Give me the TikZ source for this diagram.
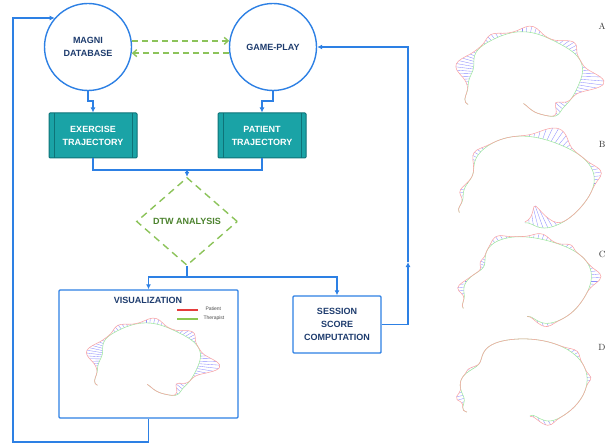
\documentclass[tikz,border=0pt]{standalone}
\usepackage{fontspec}
\setsansfont{Liberation Sans}
\usetikzlibrary{arrows.meta,shapes.geometric,positioning}

\definecolor{flowblue}{RGB}{45,128,228}
\definecolor{navy}{RGB}{30,60,110}
\definecolor{tealfill}{RGB}{26,163,166}
\definecolor{tealedge}{RGB}{14,115,120}
\definecolor{dashgreen}{RGB}{140,195,90}
\definecolor{dtwgreen}{RGB}{75,130,45}
\definecolor{patred}{RGB}{250,165,165}
\definecolor{thergreen}{RGB}{160,232,160}
\definecolor{hatchblue}{RGB}{140,140,255}
\definecolor{legred}{RGB}{230,60,60}
\definecolor{leggreen}{RGB}{140,200,80}

% one DTW alignment: centre, radii, angle range, therapist offset, patient bumps
\newcommand{\dtwpath}[8]{%
  \begin{scope}[shift={(#1,#2)}, x=#3pt, y=#4pt]
    \pgfmathtruncatemacro\nh{(#5-(#6))/4}
    \foreach \i in {0,...,\nh}{
      \pgfmathsetmacro\x{#5-4*\i}
      \draw[hatch] ({(1+#7)*cos(\x)},{(1+#7)*sin(\x)})
        -- ({(1+#7+#8)*cos(\x)},{(1+#7+#8)*sin(\x)});
    }
    \draw[ther] plot[domain=#5:#6, samples=90, smooth] ({(1+#7)*cos(\x)},{(1+#7)*sin(\x)});
    \draw[pati] plot[domain=#5:#6, samples=90, smooth] ({(1+#7+#8)*cos(\x)},{(1+#7+#8)*sin(\x)});
  \end{scope}}

\begin{document}
\begin{tikzpicture}[
    x=1pt, y=-1pt,
    >={Latex[length=5pt,width=5pt]},
    declare function={bmp(\ta,\tb,\tc)=exp(-min(((\ta-\tb)/\tc)*((\ta-\tb)/\tc),25));},
    every node/.style={font=\sffamily\bfseries\fontsize{9}{13}\selectfont, text=navy, align=center},
    stage/.style={circle, draw=flowblue, line width=1.4pt, fill=white, minimum size=87pt, inner sep=0pt},
    proc/.style={rectangle, rounded corners=1pt, draw=tealedge, line width=1pt, fill=tealfill,
        text=white, minimum width=88pt, minimum height=45pt,
        path picture={\draw[tealedge, line width=0.9pt]
            ([xshift=5pt]path picture bounding box.north west) -- ([xshift=5pt]path picture bounding box.south west)
            ([xshift=-5pt]path picture bounding box.north east) -- ([xshift=-5pt]path picture bounding box.south east);}},
    box/.style={rectangle, draw=flowblue, line width=1.4pt, fill=white, rounded corners=1pt, inner sep=0pt},
    decide/.style={diamond, draw=dashgreen, line width=1.4pt, dash pattern=on 7pt off 5pt,
        minimum width=101pt, minimum height=88pt, inner sep=0pt, text=dtwgreen},
    flow/.style={->, draw=flowblue, line width=1.4pt},
    link/.style={draw=flowblue, line width=1.4pt},
    sync/.style={-{Straight Barb[length=4pt,width=7pt]}, draw=dashgreen, line width=1.4pt, dash pattern=on 6pt off 4pt},
    hatch/.style={hatchblue, line width=0.35pt},
    ther/.style={thergreen, line width=0.55pt},
    pati/.style={patred, line width=0.55pt},
    legtext/.style={font=\sffamily\fontsize{5}{6}\selectfont, text=black!70, anchor=west},
    tag/.style={font=\rmfamily\fontsize{9}{9}\selectfont, text=black!80, anchor=east}
]
\useasboundingbox (0,0) rectangle (609,446);

% flowchart
\node[stage] (db) at (88,47) {MAGNI\\DATABASE};
\node[stage] (gp) at (273,47) {GAME-PLAY};
\node[proc] (ex) at (93,135.5) {EXERCISE\\TRAJECTORY};
\node[proc] (pt) at (262,135.5) {PATIENT\\TRAJECTORY};
\node[decide] (dtw) at (187,221.5) {DTW ANALYSIS};
\node[box, minimum width=179pt, minimum height=128pt] (vis) at (148.5,354) {};
\node (vt) at (148,300) {VISUALIZATION};
\node[box, minimum width=88pt, minimum height=57pt] (sc) at (337,324.5) {SESSION\\SCORE\\COMPUTATION};

\coordinate (mj) at (187,170);
\coordinate (sj) at (187,277);
\coordinate (rc) at (408,262);
\coordinate (lb) at (13,442);

\draw[sync] (db.8) -- (gp.172);
\draw[sync] (gp.188) -- (db.-8);
\draw[flow] (db.south) -- ++(0,10) -| (ex.north);
\draw[flow] (gp.south) -- ++(0,10) -| (pt.north);
\draw[link] (ex.south) |- (mj) -| (pt.south);
\draw[flow] (mj) -- (dtw.north);
\draw[link] (dtw.south) -- (sj);
\draw[flow] (sj) -| (vis.north);
\draw[flow] (sj) -| (sc.north);
\draw[flow] (sc.east) -| (rc);
\draw[flow] (rc) |- (gp.east);
\draw[flow] (vis.south) |- (lb) |- (db.139);

% legend inside the visualization
\draw[legred, line width=1.6pt] (177,310) -- (198,310);
\draw[leggreen, line width=1.6pt] (177,319) -- (198,319);
\node[legtext] (lp) at (202,309) {Patient};
\node[legtext] (lt) at (200,318) {Therapist};

\dtwpath{146}{360}{54}{36}{218}{-88}
  {0.03*sin(5*\x)-0.2*bmp(\x,168,22)+0.15*bmp(\x,215,10)+0.1*bmp(\x,-60,8)-0.3*bmp(\x,-90,12)}
  {0.3*bmp(\x,168,16)+0.12*bmp(\x,118,10)+0.15*bmp(\x,82,10)+0.18*bmp(\x,42,10)+0.4*bmp(\x,-8,12)-0.18*bmp(\x,-50,7)}

% alignments A-D
\dtwpath{522}{75}{60}{42}{218}{-88}
  {0.03*sin(5*\x)-0.2*bmp(\x,168,22)+0.15*bmp(\x,215,10)+0.1*bmp(\x,-60,8)-0.3*bmp(\x,-90,12)}
  {0.3*bmp(\x,168,16)+0.12*bmp(\x,118,10)+0.15*bmp(\x,82,10)+0.18*bmp(\x,42,10)+0.4*bmp(\x,-8,12)-0.18*bmp(\x,-50,7)}
\dtwpath{527}{183}{66}{46}{212}{-92}
  {0.03*sin(4*\x+30)-0.15*bmp(\x,170,20)+0.2*bmp(\x,212,8)-0.15*bmp(\x,-90,10)}
  {0.06*bmp(\x,190,8)+0.08*bmp(\x,140,10)+0.3*bmp(\x,68,14)+0.12*bmp(\x,12,10)-0.5*bmp(\x,-76,9)}
\dtwpath{527}{281}{64}{44}{212}{-90}
  {0.03*sin(4*\x)-0.22*bmp(\x,155,22)+0.15*bmp(\x,212,8)-0.2*bmp(\x,-88,10)}
  {0.1*bmp(\x,188,8)+0.08*bmp(\x,150,8)+0.1*bmp(\x,115,8)+0.12*bmp(\x,78,9)+0.08*bmp(\x,50,6)+0.15*bmp(\x,5,10)+0.08*bmp(\x,-75,8)}
\dtwpath{523}{382}{64}{44}{218}{-82}
  {0.02*sin(3*\x)-0.22*bmp(\x,150,20)+0.15*bmp(\x,215,8)-0.25*bmp(\x,-80,10)}
  {0.12*bmp(\x,200,6)+0.05*bmp(\x,160,6)+0.08*bmp(\x,40,8)+0.06*bmp(\x,5,6)+0.12*bmp(\x,-70,8)}

\node[tag] (ta) at (609,26) {A};
\node[tag] (tb) at (609,144) {B};
\node[tag] (tc) at (609,254) {C};
\node[tag] (td) at (609,347) {D};
\end{tikzpicture}
\end{document}
